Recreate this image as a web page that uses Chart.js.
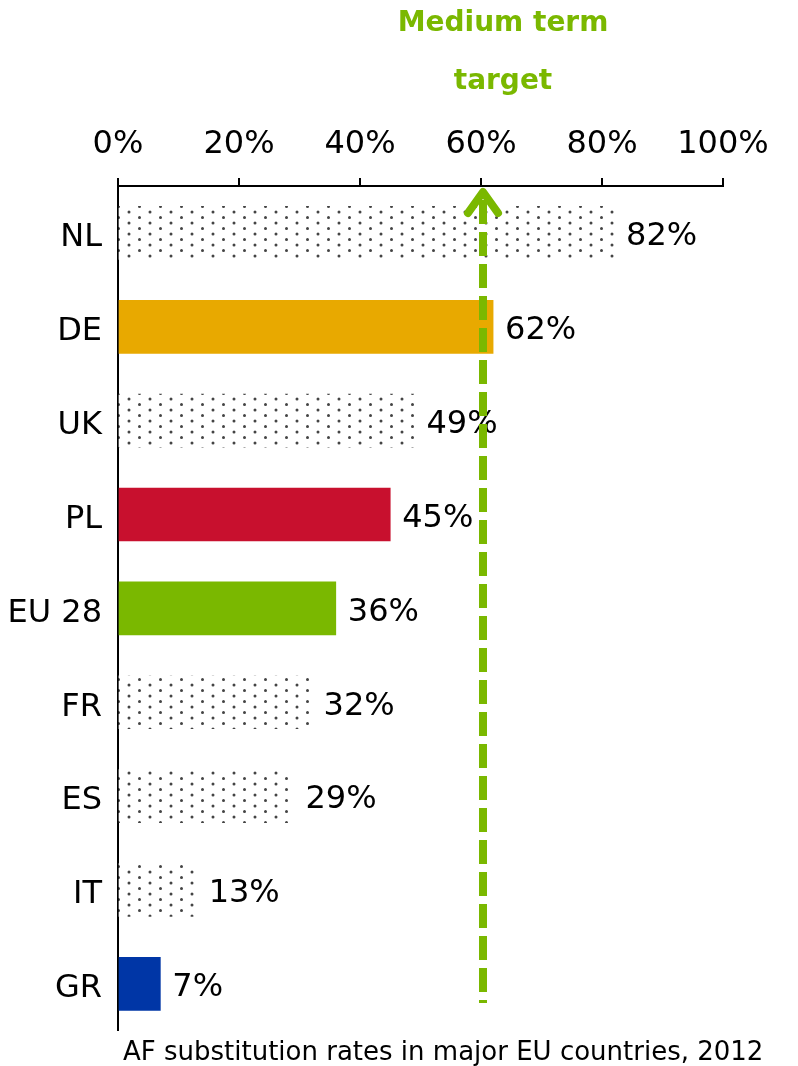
<!DOCTYPE html>
<html>
<head>
<meta charset="utf-8">
<script src="https://cdn.jsdelivr.net/npm/chart.js@4/dist/chart.umd.min.js"></script>
<style>
html,body{margin:0;padding:0;background:#fff;}
#wrap{width:798px;height:1066px;}
</style>
</head>
<body>
<div id="wrap"><canvas id="c" width="798" height="1066"></canvas></div>
<script>
const categories = ['NL', 'DE', 'UK', 'PL', 'EU 28', 'FR', 'ES', 'IT', 'GR'];
const values = [82, 62, 49, 45, 36, 32, 29, 13, 7];
const barStyles = ['dots', '#e8a900', 'dots', '#c8102e', '#7ab800', 'dots', 'dots', 'dots', '#0036a6'];
const tickValues = [0, 20, 40, 60, 80, 100];
const targetValue = 60;
const targetLabel = ['Medium term', 'target'];
const caption = 'AF substitution rates in major EU countries, 2012';

const FONT = '"DejaVu Sans", Verdana, sans-serif';
const GREEN = '#7ab800';
const FS = 32;

function makeDots() {
  const t = document.createElement('canvas');
  t.width = 21; t.height = 11;
  const g = t.getContext('2d');
  g.fillStyle = '#fff';
  g.fillRect(0, 0, 21, 11);
  g.fillStyle = '#444';
  g.beginPath(); g.arc(3, 3, 1.5, 0, Math.PI * 2); g.fill();
  g.beginPath(); g.arc(13.5, 8.5, 1.5, 0, Math.PI * 2); g.fill();
  return document.getElementById('c').getContext('2d').createPattern(t, 'repeat');
}
const dotPattern = makeDots();
const colors = barStyles.map(s => s === 'dots' ? dotPattern : s);

const overlay = {
  id: 'overlay',
  afterDatasetsDraw(chart) {
    const ctx = chart.ctx;
    const x = chart.scales.x;
    const y = chart.scales.y;
    const meta = chart.getDatasetMeta(0);
    ctx.save();
    // value labels
    ctx.font = FS + 'px ' + FONT;
    ctx.fillStyle = '#000';
    ctx.textBaseline = 'middle';
    ctx.textAlign = 'left';
    meta.data.forEach((bar, i) => {
      ctx.fillText(values[i] + '%', bar.x + 12, bar.y + 4);
    });
    // target dashed line
    const tx = x.getPixelForValue(targetValue) + 2;
    ctx.strokeStyle = GREEN;
    ctx.lineWidth = 8;
    ctx.setLineDash([24, 8]);
    ctx.lineCap = 'butt';
    ctx.beginPath();
    ctx.moveTo(tx, y.top + 14);
    ctx.lineTo(tx, 1003);
    ctx.stroke();
    // arrow head
    ctx.setLineDash([]);
    ctx.lineCap = 'round';
    ctx.lineJoin = 'round';
    ctx.beginPath();
    ctx.moveTo(tx - 15, y.top + 27);
    ctx.lineTo(tx, y.top + 6);
    ctx.lineTo(tx + 15, y.top + 27);
    ctx.stroke();
    // target text
    ctx.font = 'bold 28px ' + FONT;
    ctx.fillStyle = GREEN;
    ctx.textAlign = 'center';
    ctx.fillText(targetLabel[0], tx + 20, 24);
    ctx.fillText(targetLabel[1], tx + 20, 82);
    // caption
    ctx.font = '26px ' + FONT;
    ctx.fillStyle = '#000';
    ctx.textAlign = 'left';
    ctx.fillText(caption, 123, 1053);
    ctx.restore();
  }
};

new Chart(document.getElementById('c'), {
  type: 'bar',
  data: {
    labels: categories,
    datasets: [{
      data: values,
      backgroundColor: colors,
      borderWidth: 0,
      barThickness: 53
    }]
  },
  options: {
    indexAxis: 'y',
    responsive: false,
    animation: false,
    layout: { padding: { left: 0, right: 75, top: 0, bottom: 34 } },
    plugins: { legend: { display: false }, tooltip: { enabled: false }, title: { display: false } },
    scales: {
      x: {
        position: 'top',
        min: 0, max: 100,
        afterFit(s) { s.height = 186; },
        afterBuildTicks(s) { s.ticks = tickValues.map(v => ({ value: v })); },
        ticks: {
          callback: v => v + '%',
          font: { family: FONT, size: FS },
          color: '#000',
          padding: 14,
          maxRotation: 0
        },
        grid: { drawOnChartArea: false, drawTicks: true, tickLength: 8, color: '#000', lineWidth: 2 },
        border: { display: true, color: '#000', width: 2 }
      },
      y: {
        afterFit(s) { s.width = 118; },
        ticks: {
          font: { family: FONT, size: FS },
          color: '#000',
          padding: 16,
          labelOffset: 5
        },
        grid: { display: false, drawTicks: false },
        border: { display: true, color: '#000', width: 2 }
      }
    }
  },
  plugins: [overlay]
});
</script>
</body>
</html>
